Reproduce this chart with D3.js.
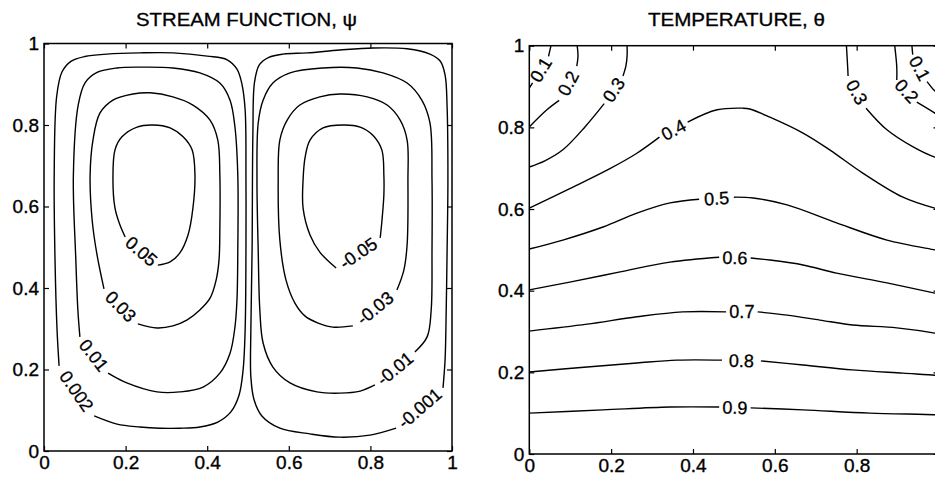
<!DOCTYPE html>
<html><head><meta charset="utf-8">
<script src="https://cdn.jsdelivr.net/npm/d3@7"></script>
<style>
body{margin:0;background:#fff}
svg{display:block}
text{font-family:"Liberation Sans",Arial,Helvetica,sans-serif;fill:#000}
</style>
</head><body>
<svg id="chart" width="935" height="482"></svg>
<script>
// ---------- DATA (data units) ----------
const axisTicks = [0, 0.2, 0.4, 0.6, 0.8, 1];
const axisTickLabels = ["0", "0.2", "0.4", "0.6", "0.8", "1"];

// Stream function contours (closed loops, label sits in the gap between last and first point)
const psiLevels = ["0.002", "0.01", "0.03", "0.05", "-0.001", "-0.01", "-0.03", "-0.05"];
const psi0002 = [[0.123,0.086],[0.179,0.066],[0.235,0.059],[0.284,0.056],[0.333,0.056],[0.382,0.059],[0.426,0.071],[0.458,0.096],[0.478,0.137],[0.488,0.199],[0.493,0.297],[0.495,0.493],[0.495,0.665],[0.493,0.837],[0.485,0.901],[0.473,0.937],[0.449,0.960],[0.400,0.969],[0.316,0.977],[0.235,0.977],[0.154,0.974],[0.100,0.968],[0.066,0.956],[0.044,0.930],[0.031,0.870],[0.025,0.677],[0.027,0.469],[0.032,0.297],[0.037,0.209]];
const psi001 = [[0.157,0.191],[0.203,0.167],[0.277,0.145],[0.333,0.145],[0.390,0.157],[0.431,0.191],[0.456,0.240],[0.468,0.304],[0.473,0.371],[0.475,0.493],[0.475,0.677],[0.468,0.795],[0.456,0.861],[0.431,0.903],[0.382,0.928],[0.316,0.940],[0.235,0.942],[0.179,0.940],[0.130,0.929],[0.101,0.904],[0.084,0.850],[0.072,0.677],[0.078,0.469],[0.083,0.346],[0.088,0.280]];
const psi003 = [[0.230,0.312],[0.277,0.302],[0.316,0.307],[0.350,0.321],[0.382,0.346],[0.407,0.375],[0.422,0.420],[0.429,0.469],[0.431,0.542],[0.431,0.677],[0.426,0.763],[0.407,0.812],[0.365,0.849],[0.316,0.869],[0.260,0.879],[0.218,0.876],[0.169,0.861],[0.137,0.829],[0.120,0.763],[0.113,0.677],[0.118,0.567],[0.130,0.481],[0.147,0.398]];
const psi005 = [[0.279,0.456],[0.309,0.464],[0.333,0.486],[0.353,0.530],[0.365,0.596],[0.370,0.677],[0.363,0.739],[0.341,0.771],[0.309,0.793],[0.267,0.800],[0.228,0.795],[0.191,0.771],[0.174,0.739],[0.169,0.665],[0.174,0.596],[0.186,0.555],[0.199,0.525]];
const psiM0001 = [[0.978,0.155],[0.983,0.223],[0.985,0.297],[0.988,0.493],[0.990,0.665],[0.988,0.844],[0.983,0.923],[0.971,0.957],[0.946,0.974],[0.890,0.987],[0.806,0.989],[0.725,0.984],[0.645,0.977],[0.586,0.974],[0.551,0.966],[0.528,0.948],[0.516,0.905],[0.512,0.780],[0.510,0.493],[0.507,0.297],[0.507,0.182],[0.515,0.125],[0.534,0.086],[0.578,0.056],[0.652,0.042],[0.725,0.034],[0.799,0.039],[0.863,0.056]];
const psiM001 = [[0.909,0.243],[0.939,0.280],[0.949,0.346],[0.951,0.493],[0.951,0.665],[0.946,0.805],[0.926,0.861],[0.890,0.903],[0.831,0.928],[0.767,0.940],[0.684,0.940],[0.603,0.928],[0.561,0.903],[0.537,0.861],[0.525,0.805],[0.522,0.665],[0.525,0.493],[0.529,0.346],[0.537,0.265],[0.561,0.206],[0.603,0.167],[0.669,0.145],[0.725,0.142],[0.775,0.147],[0.811,0.162]];
const psiM003 = [[0.865,0.395],[0.882,0.444],[0.890,0.506],[0.892,0.665],[0.890,0.763],[0.873,0.812],[0.841,0.849],[0.792,0.869],[0.725,0.876],[0.676,0.869],[0.627,0.849],[0.596,0.812],[0.578,0.763],[0.574,0.665],[0.578,0.518],[0.593,0.420],[0.615,0.363],[0.640,0.331],[0.672,0.314],[0.708,0.304],[0.757,0.307]];
const psiM005 = [[0.824,0.523],[0.828,0.562],[0.833,0.628],[0.833,0.677],[0.828,0.739],[0.806,0.775],[0.775,0.795],[0.733,0.800],[0.684,0.793],[0.652,0.763],[0.640,0.721],[0.635,0.665],[0.635,0.596],[0.652,0.530],[0.676,0.488],[0.716,0.449]];

// Temperature contours (open curves, null marks where the label breaks the line)
const thetaLevels = ["0.1", "0.1", "0.2", "0.2", "0.3", "0.3", "0.4", "0.5", "0.6", "0.7", "0.8", "0.9"];
const theta01L = [[0,0.896],[0.008,0.909],null,[0.047,0.974],[0.053,1.0]];
const theta01R = [[0.935,1.0],[0.937,0.978],null,[0.972,0.912],[0.99,0.890],[1.0,0.882]];
const theta02L = [[0,0.801],[0.043,0.843],[0.073,0.866],null,[0.116,0.950],[0.119,0.975],[0.117,1.0]];
const theta02R = [[0.893,1.0],[0.898,0.948],[0.898,0.916],null,[0.947,0.862],[0.991,0.835],[1.0,0.828]];
const theta03L = [[0,0.703],[0.038,0.718],[0.082,0.745],[0.136,0.801],[0.183,0.858],null,[0.229,0.926],[0.236,0.950],[0.239,0.975],[0.239,1.0]];
const theta03R = [[0.775,1.0],[0.778,0.948],[0.779,0.926],null,[0.823,0.847],[0.874,0.794],[0.938,0.752],[0.991,0.727],[1.0,0.725]];
const theta04 = [[0,0.602],[0.099,0.650],[0.197,0.699],[0.262,0.736],[0.318,0.776],null,[0.387,0.813],[0.459,0.843],[0.522,0.847],[0.539,0.845],[0.588,0.825],[0.669,0.786],[0.734,0.745],[0.815,0.688],[0.913,0.629],[0.991,0.602],[1,0.600]];
const theta05 = [[0,0.502],[0.082,0.524],[0.180,0.556],[0.263,0.590],[0.344,0.615],[0.415,0.624],null,[0.500,0.629],[0.547,0.627],[0.630,0.610],[0.751,0.566],[0.874,0.524],[0.991,0.500],[1,0.498]];
const theta06 = [[0,0.402],[0.099,0.421],[0.222,0.446],[0.344,0.470],[0.464,0.482],null,[0.541,0.480],[0.588,0.475],[0.669,0.463],[0.751,0.443],[0.874,0.419],[0.991,0.394],[1,0.392]];
const theta07 = [[0,0.301],[0.141,0.318],[0.263,0.336],[0.375,0.348],[0.481,0.348],null,[0.558,0.348],[0.630,0.340],[0.710,0.328],[0.790,0.316],[0.898,0.309],[0.991,0.296],[1,0.294]];
const theta08 = [[0,0.201],[0.141,0.213],[0.263,0.223],[0.361,0.230],[0.471,0.230],null,[0.566,0.228],[0.669,0.218],[0.790,0.206],[0.913,0.198],[0.991,0.193],[1,0.192]];
const theta09 = [[0,0.100],[0.180,0.108],[0.344,0.115],[0.464,0.115],null,[0.541,0.113],[0.669,0.108],[0.832,0.100],[0.991,0.096],[1,0.095]];

const psiContours = [psi0002, psi001, psi003, psi005, psiM0001, psiM001, psiM003, psiM005];
const thetaContours = [theta01L, theta01R, theta02L, theta02R, theta03L, theta03R, theta04, theta05, theta06, theta07, theta08, theta09];

// ---------- DRAWING ----------
const W = 935;
const svg = d3.select("#chart");

function drawPanel(opt) {
  const x = d3.scaleLinear().domain([0, 1]).range([opt.x0, opt.x1]);
  const y = d3.scaleLinear().domain([0, 1]).range([opt.y0, opt.y1]);
  const g = svg.append("g");
  const clipId = "clip" + opt.id;
  svg.append("clipPath").attr("id", clipId).append("rect")
    .attr("x", opt.x0).attr("y", opt.y1).attr("width", opt.x1 - opt.x0).attr("height", opt.y0 - opt.y1);

  const fmt = (d) => axisTickLabels[axisTicks.indexOf(d)];
  const visibleX = axisTicks.filter(d => x(d) < W - 4);
  const gx = g.append("g").attr("transform", `translate(0,${opt.y0})`)
    .call(d3.axisBottom(x).tickValues(visibleX).tickFormat(fmt).tickSize(-5).tickSizeOuter(0).tickPadding(5));
  const gxt = g.append("g").attr("transform", `translate(0,${opt.y1})`)
    .call(d3.axisTop(x).tickValues(axisTicks).tickFormat("").tickSize(-5).tickSizeOuter(0));
  const gy = g.append("g").attr("transform", `translate(${opt.x0},0)`)
    .call(d3.axisLeft(y).tickValues(axisTicks).tickFormat(fmt).tickSize(-5).tickSizeOuter(0).tickPadding(5));
  const gyr = g.append("g").attr("transform", `translate(${opt.x1},0)`)
    .call(d3.axisRight(y).tickValues(axisTicks).tickFormat("").tickSize(-5).tickSizeOuter(0));
  [gx, gxt, gy, gyr].forEach(a => {
    a.select(".domain").remove();
    a.selectAll(".tick line").attr("stroke", "#000").attr("stroke-width", 1.2);
    a.selectAll(".tick text").attr("font-size", 19).attr("font-family", '"Liberation Sans",Arial,sans-serif')
      .attr("fill", "#000").attr("stroke", "#000").attr("stroke-width", 0.35);
  });

  g.append("rect").attr("x", opt.x0).attr("y", opt.y1)
    .attr("width", opt.x1 - opt.x0).attr("height", opt.y0 - opt.y1)
    .attr("fill", "none").attr("stroke", "#000").attr("stroke-width", 1.5);

  const line = d3.line().defined(d => d !== null)
    .x(d => x(d[0])).y(d => y(d[1]))
    .curve(d3.curveCatmullRom.alpha(0.5));

  const cg = g.append("g").attr("clip-path", `url(#${clipId})`);
  opt.contours.forEach((pts, i) => {
    cg.append("path").attr("d", line(pts)).attr("fill", "none")
      .attr("stroke", "#000").attr("stroke-width", 1.4);
    let p, q;
    const k = pts.indexOf(null);
    if (k >= 0) { p = pts[k - 1]; q = pts[k + 1]; }
    else { p = pts[pts.length - 1]; q = pts[0]; }
    const px = x(p[0]), py = y(p[1]), qx = x(q[0]), qy = y(q[1]);
    let ang = Math.atan2(qy - py, qx - px) * 180 / Math.PI;
    if (ang > 90) ang -= 180;
    if (ang < -90) ang += 180;
    g.append("text")
      .attr("transform", `translate(${(px + qx) / 2},${(py + qy) / 2}) rotate(${ang})`)
      .attr("text-anchor", "middle").attr("dy", "0.36em")
      .attr("font-size", opt.labelSize).attr("stroke", "#000").attr("stroke-width", 0.3)
      .text(opt.levels[i]);
  });

  g.append("text").attr("x", (opt.x0 + opt.x1) / 2 + opt.titleDx).attr("y", 26)
    .attr("text-anchor", "middle").attr("font-size", 17.5)
    .attr("stroke", "#000").attr("stroke-width", 0.3)
    .attr("textLength", opt.titleLen).attr("lengthAdjust", "spacingAndGlyphs")
    .text(opt.title);
}

drawPanel({id: 1, x0: 44, x1: 452, y0: 451, y1: 43.5, contours: psiContours, levels: psiLevels, labelSize: 18,
  title: "STREAM FUNCTION, \u03C8", titleLen: 221, titleDx: -1.5});
drawPanel({id: 2, x0: 529.3, x1: 938.5, y0: 454, y1: 45.7, contours: thetaContours, levels: thetaLevels, labelSize: 18,
  title: "TEMPERATURE, \u03B8", titleLen: 177, titleDx: 2.5});
</script>
</body></html>
